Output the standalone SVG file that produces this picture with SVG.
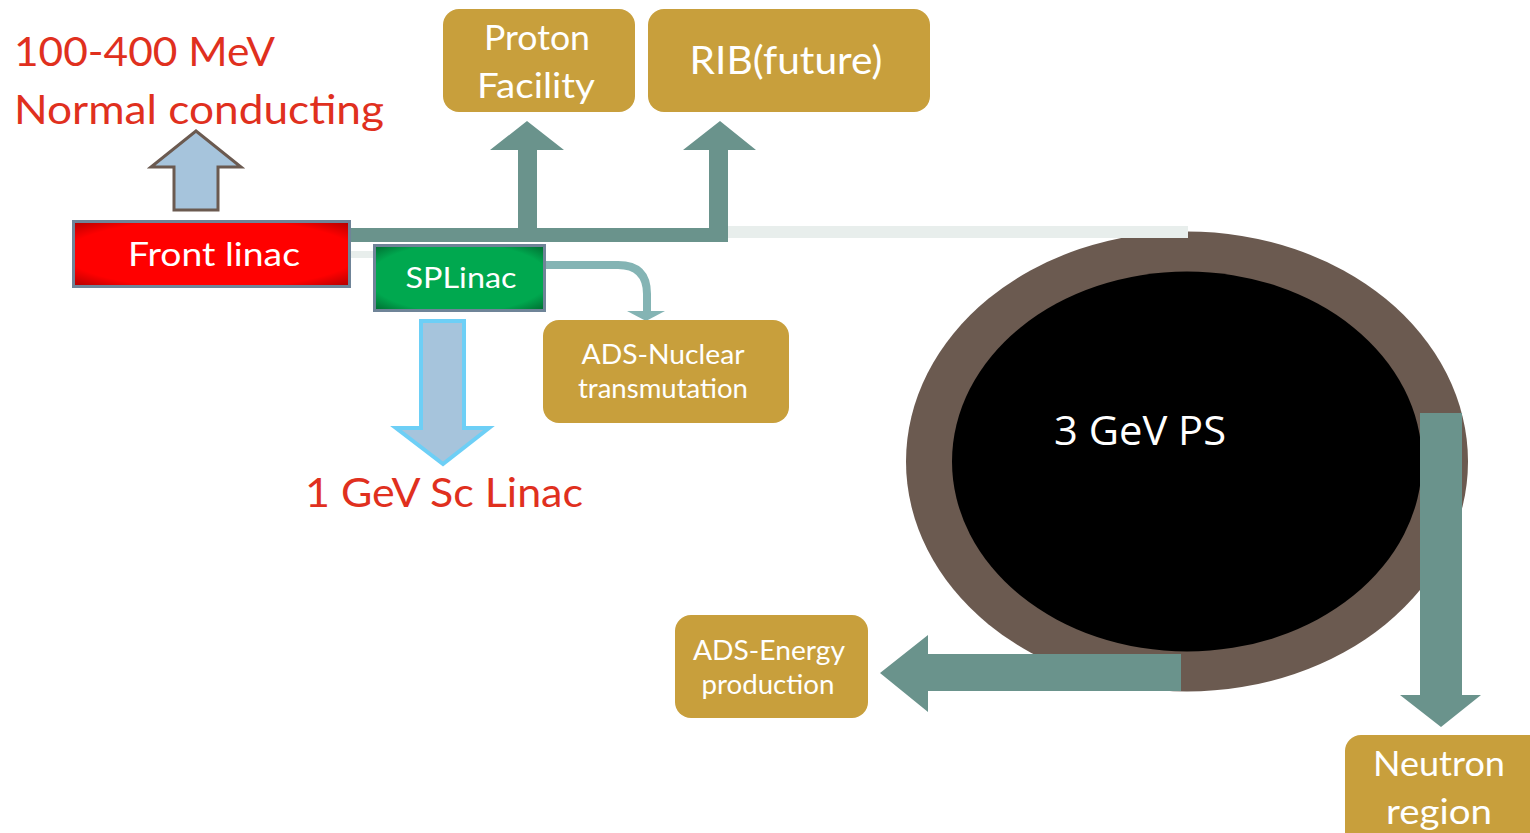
<svg xmlns="http://www.w3.org/2000/svg" width="1530" height="833" viewBox="0 0 1530 833">
<style>
.lbl{font-family:Lato,"Open Sans","Liberation Sans",sans-serif;fill:#ffffff;text-anchor:middle}
.red{font-family:Lato,"Open Sans","Liberation Sans",sans-serif;fill:#E0301E;font-size:41px}
.gold{fill:#C89F3C}
.teal{fill:#6A938C}
</style>
<defs>
<radialGradient id="gr" cx="0.5" cy="0.5" r="0.7">
<stop offset="0.75" stop-color="#FF0000"/><stop offset="1" stop-color="#B00000"/>
</radialGradient>
<radialGradient id="gg" cx="0.5" cy="0.5" r="0.7">
<stop offset="0.75" stop-color="#00A84F"/><stop offset="1" stop-color="#006B30"/>
</radialGradient>
</defs>
<rect width="1530" height="833" fill="#ffffff"/>

<g id="ps-ring">
<ellipse cx="1187" cy="461.5" rx="281" ry="230" fill="#6B5A50"/>
<ellipse cx="1187" cy="461.5" rx="235" ry="190" fill="#000000"/>
<text x="1140" y="445" font-family="'Open Sans','Liberation Sans',sans-serif" font-size="40" fill="#ffffff" text-anchor="middle" textLength="172" lengthAdjust="spacingAndGlyphs">3 GeV PS</text>
</g>

<g id="connectors">
<rect x="728" y="226" width="460" height="12" fill="#E8EEEC"/>
<rect x="347" y="251" width="26" height="7" fill="#E8EEEC"/>
<polygon class="teal" points="347,228 518,228 518,150 490,150 527,121 564,150 537,150 537,228 709,228 709,150 683,150 720,121 756,150 728,150 728,242 347,242"/>
<path d="M530,265 H618 Q647,265 647,294 V312" fill="none" stroke="#84B4B4" stroke-width="8"/>
<polygon fill="#84B4B4" points="627,311 665,311 646,321"/>
<polygon fill="#A6C4DC" stroke="#6B5A50" stroke-width="3" points="174,210 174,167 151,167 196,131 241,167 218,167 218,210"/>
<polygon fill="#A6C4DC" stroke="#6DCFF6" stroke-width="4" points="421,321 464,321 464,428 489,428 443,464 396,428 421,428"/>
<polygon class="teal" points="1181,654 928,654 928,635 880,673 928,712 928,691 1181,691"/>
<polygon class="teal" points="1420,413 1462,413 1462,695 1481,695 1441,727 1400,695 1420,695"/>
</g>

<g id="front-linac">
<rect x="73.5" y="221.5" width="276" height="65" fill="url(#gr)" stroke="#6F8498" stroke-width="3"/>
<text class="lbl" x="214" y="266" font-size="33" textLength="172" lengthAdjust="spacingAndGlyphs">Front linac</text>
</g>

<g id="splinac">
<rect x="374.5" y="245.5" width="170" height="65" fill="url(#gg)" stroke="#6F8498" stroke-width="3"/>
<text class="lbl" x="461" y="288" font-size="29" textLength="111" lengthAdjust="spacingAndGlyphs">SPLinac</text>
</g>

<g id="proton-facility">
<rect class="gold" x="443" y="9" width="192" height="103" rx="16"/>
<text class="lbl" x="537" y="50" font-size="34" textLength="106" lengthAdjust="spacingAndGlyphs">Proton</text>
<text class="lbl" x="536" y="98" font-size="34" textLength="118" lengthAdjust="spacingAndGlyphs">Facility</text>
</g>

<g id="rib">
<rect class="gold" x="648" y="9" width="282" height="103" rx="16"/>
<text class="lbl" x="786" y="74" font-size="38" textLength="193" lengthAdjust="spacingAndGlyphs">RIB(future)</text>
</g>

<g id="ads-nuclear">
<rect class="gold" x="543" y="320" width="246" height="103" rx="16"/>
<text class="lbl" x="663" y="364" font-size="26" textLength="163" lengthAdjust="spacingAndGlyphs">ADS-Nuclear</text>
<text class="lbl" x="663" y="398" font-size="26" textLength="170" lengthAdjust="spacingAndGlyphs">transmutation</text>
</g>

<g id="ads-energy">
<rect class="gold" x="675" y="615" width="193" height="103" rx="16"/>
<text class="lbl" x="769" y="660" font-size="26" textLength="152" lengthAdjust="spacingAndGlyphs">ADS-Energy</text>
<text class="lbl" x="768" y="694" font-size="26" textLength="133" lengthAdjust="spacingAndGlyphs">production</text>
</g>

<g id="neutron">
<rect class="gold" x="1345" y="735" width="200" height="120" rx="16"/>
<text class="lbl" x="1439" y="776" font-size="34" textLength="132" lengthAdjust="spacingAndGlyphs">Neutron</text>
<text class="lbl" x="1439" y="824" font-size="34" textLength="106" lengthAdjust="spacingAndGlyphs">region</text>
</g>

<g id="labels">
<text class="red" x="14" y="66" textLength="261" lengthAdjust="spacingAndGlyphs">100-400 MeV</text>
<text class="red" x="14" y="124" textLength="370" lengthAdjust="spacingAndGlyphs">Normal conducting</text>
<text class="red" x="305" y="507" textLength="278" lengthAdjust="spacingAndGlyphs">1 GeV Sc Linac</text>
</g>
</svg>
